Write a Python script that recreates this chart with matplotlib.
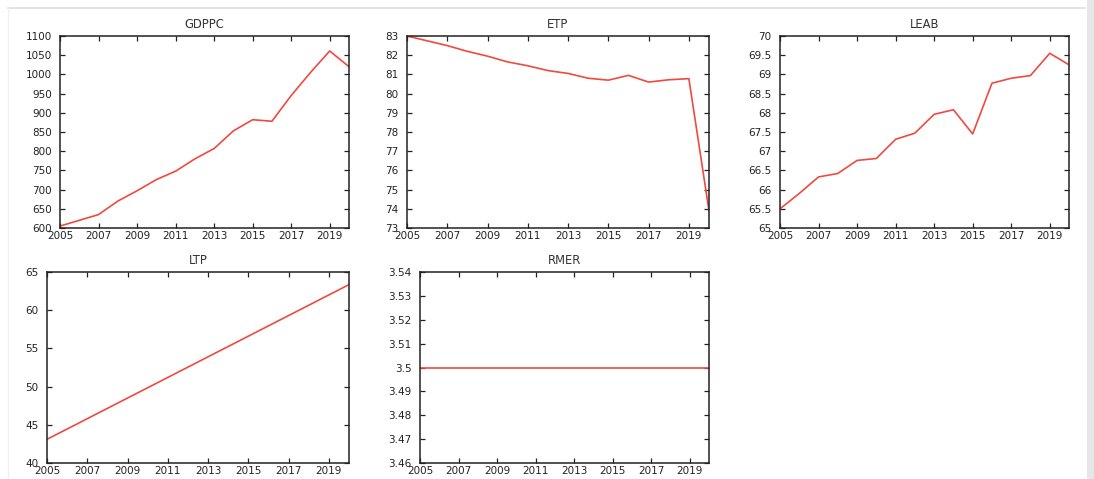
import matplotlib
matplotlib.use("Agg")
import matplotlib.pyplot as plt
from matplotlib.lines import Line2D
from matplotlib.patches import Rectangle

years = list(range(2005, 2021))
gdppc = [605, 620, 635, 670, 697, 726, 748, 780, 807, 853, 882, 878, 945, 1005, 1061, 1020]
etp = [83.0, 82.75, 82.5, 82.2, 81.95, 81.65, 81.45, 81.2, 81.05, 80.8, 80.7, 80.95, 80.6, 80.72, 80.78, 73.9]
leab = [65.5, 65.9, 66.33, 66.42, 66.76, 66.81, 67.31, 67.47, 67.96, 68.08, 67.45, 68.77, 68.9, 68.97, 69.55, 69.25]
ltp = [43.1, 44.45, 45.8, 47.15, 48.5, 49.85, 51.2, 52.55, 53.9, 55.25, 56.6, 57.95, 59.3, 60.65, 62.0, 63.35]
rmer = [3.5] * 16

xticks = [2005, 2007, 2009, 2011, 2013, 2015, 2017, 2019]

panels = [
    ("GDPPC", gdppc, (600, 1100), list(range(600, 1101, 50)), (60, 349, 36, 228)),
    ("ETP", etp, (73, 83), list(range(73, 84)), (407, 709, 36, 228)),
    ("LEAB", leab, (65, 70), [65 + 0.5 * i for i in range(11)], (780, 1069, 36, 228)),
    ("LTP", ltp, (40, 65), list(range(40, 66, 5)), (47, 349, 272, 463)),
    ("RMER", rmer, (3.46, 3.54), [3.46 + 0.01 * i for i in range(9)], (420, 709, 272, 463)),
]

W, H = 1094, 479
fig = plt.figure(figsize=(W / 100, H / 100), dpi=100)
plt.rcParams['font.family'] = ['DejaVu Sans']

# screenshot frame decorations
fig.add_artist(Line2D([8 / W, 1085 / W], [1 - 8 / H, 1 - 8 / H], color='#dddddd', lw=1.2))
fig.add_artist(Line2D([8 / W, 8 / W], [0, 1 - 8 / H], color='#f0f0f0', lw=1.0))
fig.add_artist(Rectangle((1087 / W, 0), 7 / W, 1, color='#e6e6e6', lw=0))

def fmt(v):
    s = ('%.2f' % v).rstrip('0').rstrip('.')
    return s

for title, vals, ylim, yt, (l, r, t, b) in panels:
    ax = fig.add_axes([l / W, 1 - b / H, (r - l) / W, (b - t) / H])
    ax.plot(years, vals, color='#ee4a40', lw=1.2)
    ax.set_xlim(2005, 2020)
    ax.set_ylim(*ylim)
    ax.set_xticks(xticks)
    ax.set_yticks(yt)
    ax.set_yticklabels([fmt(v) for v in yt])
    ax.tick_params(direction='in', length=3.5, width=0.9, top=True, right=True,
                   labelsize=7.5, colors='#222222')
    ax.tick_params(axis='x', pad=2.5)
    ax.tick_params(axis='y', pad=6)
    for s in ax.spines.values():
        s.set_linewidth(1.1)
        s.set_color('#222222')
    ax.set_title(title, fontsize=8.3, pad=6, color='#333333')

fig.savefig("out.png", dpi=100)
